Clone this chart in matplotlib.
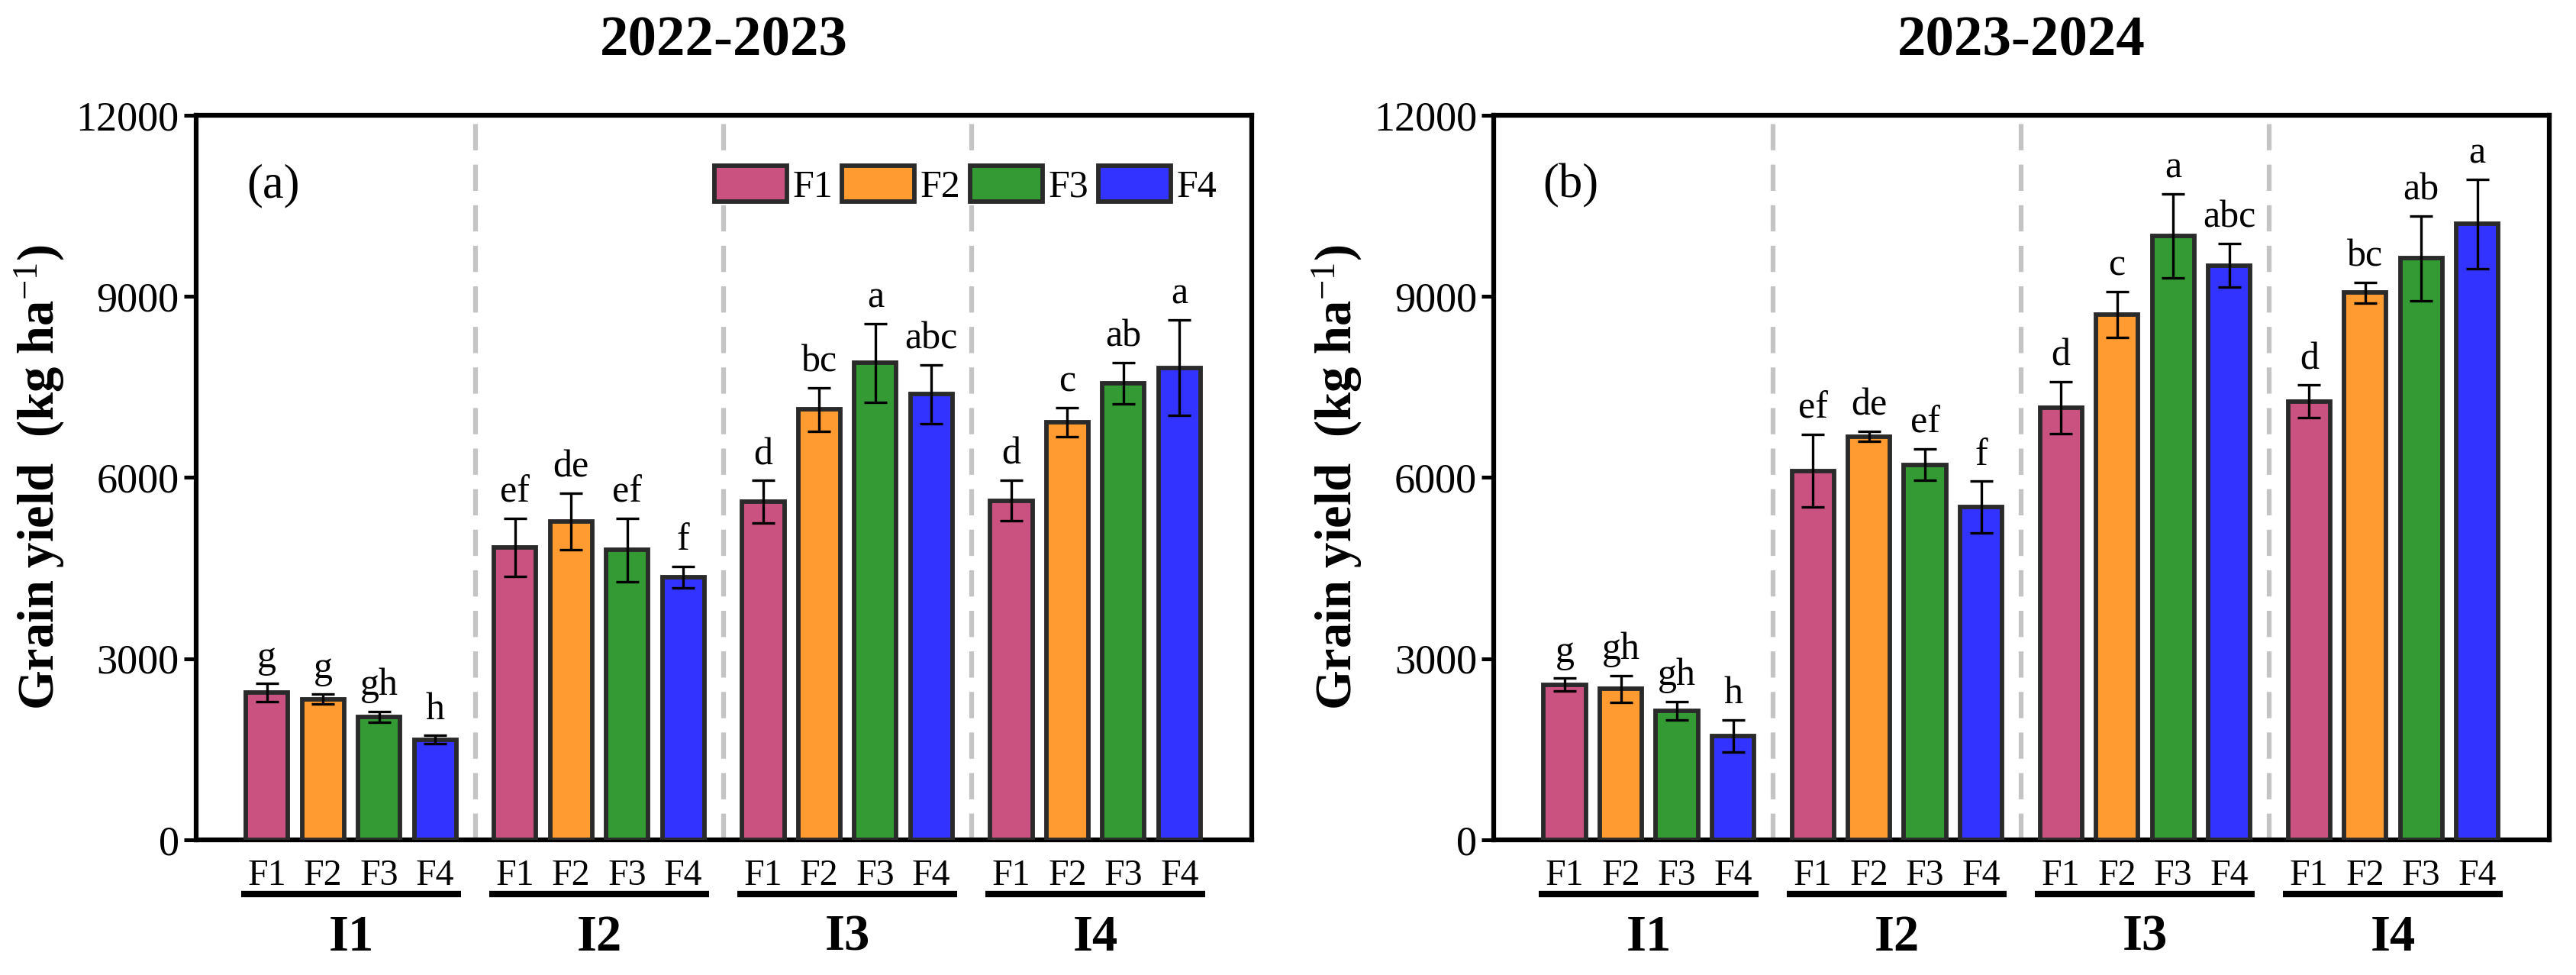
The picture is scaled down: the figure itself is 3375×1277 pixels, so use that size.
import numpy as np
import matplotlib.pyplot as plt

plt.rcParams['font.family'] = ['Liberation Serif', 'DejaVu Serif']
plt.rcParams['mathtext.fontset'] = 'custom'
plt.rcParams['mathtext.rm'] = 'Liberation Serif'
plt.rcParams['mathtext.it'] = 'Liberation Serif:italic'
plt.rcParams['mathtext.bf'] = 'Liberation Serif:bold'

# data, rows = I1..I4, columns = F1..F4
groups = ['I1', 'I2', 'I3', 'I4']
treatments = ['F1', 'F2', 'F3', 'F4']
colors = ['#C95281', '#FF9B30', '#349A34', '#3333FF']

seasons = ['2022-2023', '2023-2024']
panel_tags = ['(a)', '(b)']

yield_2223 = [[2440, 2330, 2040, 1660],
              [4840, 5270, 4800, 4350],
              [5600, 7130, 7900, 7380],
              [5620, 6920, 7560, 7820]]
err_2223 = [[150, 80, 90, 70],
            [480, 470, 520, 180],
            [350, 360, 650, 490],
            [340, 240, 340, 790]]
letters_2223 = [['g', 'g', 'gh', 'h'],
                ['ef', 'de', 'ef', 'f'],
                ['d', 'bc', 'a', 'abc'],
                ['d', 'c', 'ab', 'a']]

yield_2324 = [[2570, 2500, 2140, 1720],
              [6110, 6680, 6210, 5510],
              [7160, 8700, 10000, 9510],
              [7260, 9060, 9630, 10200]]
err_2324 = [[110, 220, 150, 270],
            [600, 80, 260, 430],
            [430, 380, 700, 360],
            [270, 170, 700, 740]]
letters_2324 = [['g', 'gh', 'gh', 'h'],
                ['ef', 'de', 'ef', 'f'],
                ['d', 'c', 'a', 'abc'],
                ['d', 'bc', 'ab', 'a']]

yields = [yield_2223, yield_2324]
errs = [err_2223, err_2324]
letters = [letters_2223, letters_2324]

step = 0.226
width = 0.17
offsets = (np.arange(4) - 1.5) * step

fig = plt.figure(figsize=(11.25, 4.2567), dpi=300)
ax_left = [0.0761, 0.5799]

for k in range(2):
    ax = fig.add_axes([ax_left[k], 0.1386, 0.4098, 0.7432])
    vals = np.array(yields[k])
    ers = np.array(errs[k])
    for j in range(4):
        x = np.arange(4) + offsets[j]
        ax.bar(x, vals[:, j], width=width, color=colors[j], edgecolor='#2a2a2a',
               linewidth=1.4, label=treatments[j], zorder=3)
        ax.errorbar(x, vals[:, j], yerr=ers[:, j], fmt='none', ecolor='black',
                    elinewidth=0.8, capsize=3.6, capthick=0.8, zorder=4)
        for i in range(4):
            ax.annotate(letters[k][i][j], (x[i], vals[i, j] + ers[i, j]),
                        xytext=(0, 2.5), textcoords='offset points',
                        ha='center', va='bottom', fontsize=12, zorder=5)
    for sep in [0.5, 1.5, 2.5]:
        ax.axvline(sep, color='#C4C4C4', lw=1.5, dashes=(5.5, 3), zorder=1)

    xt = (np.arange(4)[:, None] + offsets[None, :]).ravel()
    ax.set_xticks(xt)
    ax.set_xticklabels(treatments * 4, fontsize=11.5)
    ax.tick_params(axis='x', length=0, pad=6)
    ax.set_xlim(-0.625, 3.63)
    ax.set_ylim(0, 12000)
    ax.set_yticks([0, 3000, 6000, 9000, 12000])
    ax.tick_params(axis='y', labelsize=13, length=3.8, width=1.2, pad=1.5)
    for s in ax.spines.values():
        s.set_linewidth(1.5)

    ax.set_ylabel(r'Grain yield  (kg ha$^{-1}$)', fontsize=16, fontweight='bold', labelpad=3)
    ax.text(0.5, 1.102, seasons[k], transform=ax.transAxes, ha='center', va='center',
            fontsize=18, fontweight='bold')
    ax.text(0.073, 0.903, panel_tags[k], transform=ax.transAxes, ha='center', va='center',
            fontsize=15)

    # group underlines and labels below the axis
    trans = ax.get_xaxis_transform()
    for i, g in enumerate(groups):
        ax.plot([i - 0.443, i + 0.443], [-0.075, -0.075], transform=trans,
                color='black', lw=2, clip_on=False, solid_capstyle='butt')
        ax.text(i, -0.135, g, transform=trans, ha='center', va='center',
                fontsize=16, fontweight='bold')

    if k == 0:
        ax.legend(loc='center right', bbox_to_anchor=(0.985, 0.903), ncol=4,
                  frameon=False, fontsize=12, handlelength=1.9, handleheight=1.05,
                  handletextpad=0.15, columnspacing=0.25, borderpad=0)

fig.savefig('out.png', dpi=300)
